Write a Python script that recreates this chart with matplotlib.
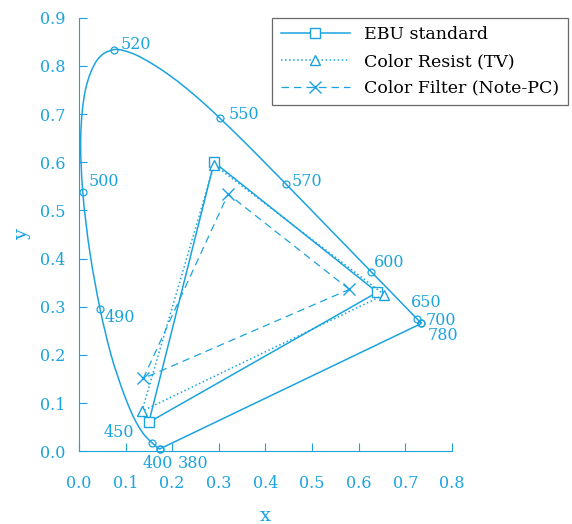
import numpy as np
import matplotlib
matplotlib.use("Agg")
import matplotlib.pyplot as plt
from matplotlib.path import Path
from matplotlib.patches import PathPatch

# CIE 1931 spectral locus (nm, x, y)
wl = [380, 390, 400, 410, 420, 430, 440, 445, 450, 455, 460, 465, 470, 475, 480,
      485, 490, 495, 500, 505, 510, 515, 520, 525, 530, 535, 540, 545, 550, 555,
      560, 565, 570, 575, 580, 585, 590, 595, 600, 605, 610, 615, 620, 625, 630,
      635, 640, 645, 650, 655, 660, 670, 680, 690, 700, 780]
lx = [0.1741, 0.1738, 0.1733, 0.1726, 0.1714, 0.1689, 0.1644, 0.1611, 0.1566, 0.1510,
      0.1440, 0.1355, 0.1241, 0.1096, 0.0913, 0.0687, 0.0454, 0.0235, 0.0082, 0.0039,
      0.0139, 0.0389, 0.0743, 0.1142, 0.1547, 0.1929, 0.2296, 0.2658, 0.3016, 0.3373,
      0.3731, 0.4087, 0.4441, 0.4788, 0.5125, 0.5448, 0.5752, 0.6029, 0.6270, 0.6482,
      0.6658, 0.6801, 0.6915, 0.7006, 0.7079, 0.7140, 0.7190, 0.7230, 0.7260, 0.7283,
      0.7300, 0.7320, 0.7334, 0.7344, 0.7347, 0.7347]
ly = [0.0050, 0.0049, 0.0048, 0.0048, 0.0051, 0.0069, 0.0109, 0.0138, 0.0177, 0.0227,
      0.0297, 0.0399, 0.0578, 0.0868, 0.1327, 0.2007, 0.2950, 0.4127, 0.5384, 0.6548,
      0.7502, 0.8120, 0.8338, 0.8262, 0.8059, 0.7816, 0.7543, 0.7243, 0.6923, 0.6589,
      0.6245, 0.5896, 0.5547, 0.5202, 0.4866, 0.4544, 0.4242, 0.3965, 0.3725, 0.3514,
      0.3340, 0.3197, 0.3083, 0.2993, 0.2920, 0.2859, 0.2809, 0.2770, 0.2740, 0.2717,
      0.2700, 0.2680, 0.2666, 0.2656, 0.2653, 0.2653]

marked = [380, 400, 450, 490, 500, 520, 550, 570, 600, 650, 700, 780]

ebu_x = [0.64, 0.29, 0.15]
ebu_y = [0.33, 0.60, 0.06]
resist_x = [0.655, 0.29, 0.135]
resist_y = [0.325, 0.595, 0.083]
filter_x = [0.58, 0.32, 0.138]
filter_y = [0.336, 0.534, 0.151]

c = "#1ba3e0"
plt.rcParams["font.family"] = ["DejaVu Serif"]

fig = plt.figure(figsize=(5.72, 5.24), dpi=100)
ax = fig.add_axes([0.138, 0.139, 0.652, 0.827])

# locus drawn as a smooth curve (Catmull-Rom -> cubic Bezier), plus purple line
P = np.column_stack([lx, ly])
verts = [P[0]]
codes = [Path.MOVETO]
for i in range(len(P) - 1):
    p0 = P[max(i - 1, 0)]
    p1 = P[i]
    p2 = P[i + 1]
    p3 = P[min(i + 2, len(P) - 1)]
    verts += [p1 + (p2 - p0) / 6, p2 - (p3 - p1) / 6, p2]
    codes += [Path.CURVE4] * 3
verts.append(P[0])
codes.append(Path.LINETO)
ax.add_patch(PathPatch(Path(verts, codes), fill=False, edgecolor=c, lw=1.1,
                       clip_on=False))

mx = [lx[wl.index(w)] for w in marked]
my = [ly[wl.index(w)] for w in marked]
ax.plot(mx, my, "o", ms=5, mfc="none", mec=c, mew=0.9, clip_on=False)

lab_off = {380: (0.038, -0.03), 400: (-0.036, -0.03), 450: (-0.103, 0.022),
           490: (0.010, -0.018), 500: (0.012, 0.021), 520: (0.016, 0.010),
           550: (0.020, 0.007), 570: (0.013, 0.006), 600: (0.006, 0.02),
           650: (-0.013, 0.034), 700: (0.008, 0.007), 780: (0.014, -0.026)}
for w, x, y in zip(marked, mx, my):
    dx, dy = lab_off[w]
    ax.text(x + dx, y + dy, str(w), color=c, fontsize=11.5, va="center", ha="left")

def tri(xs, ys):
    return xs + [xs[0]], ys + [ys[0]]

ex, ey = tri(ebu_x, ebu_y)
ax.plot(ex, ey, "-", color=c, lw=1.1, marker="s", ms=7, mfc="white", mec=c,
        markevery=[0, 1, 2], label="EBU standard")
rx, ry = tri(resist_x, resist_y)
ax.plot(rx, ry, ":", color=c, lw=1.1, marker="^", ms=7, mfc="white", mec=c,
        markevery=[0, 1, 2], label="Color Resist (TV)")
fx, fy = tri(filter_x, filter_y)
ax.plot(fx, fy, "--", color=c, lw=0.9, dashes=(6, 4), marker="x", ms=8, mec=c,
        markevery=[0, 1, 2], label="Color Filter (Note-PC)")

ax.set_xlim(0, 0.8)
ax.set_ylim(0, 0.9)
ax.set_xticks(np.arange(0, 0.81, 0.1))
ax.set_yticks(np.arange(0, 0.91, 0.1))
ax.set_xticklabels([f"{v:.1f}" for v in np.arange(0, 0.81, 0.1)])
ax.set_yticklabels([f"{v:.1f}" for v in np.arange(0, 0.91, 0.1)])
for s in ["top", "right"]:
    ax.spines[s].set_visible(False)
for s in ["left", "bottom"]:
    ax.spines[s].set_color(c)
ax.tick_params(axis="x", direction="in", length=6, color=c, labelcolor=c,
               labelsize=11.5, pad=17)
ax.tick_params(axis="y", direction="in", length=6, color=c, labelcolor=c,
               labelsize=11.5, pad=10)
ax.set_xlabel("x", color=c, fontsize=14, labelpad=11)
ax.set_ylabel("y", color=c, fontsize=14, labelpad=6)

leg = ax.legend(loc="upper right", bbox_to_anchor=(1.311, 1.0), borderaxespad=0,
                fontsize=12.5, frameon=True, fancybox=False, edgecolor="#444444",
                handlelength=4.0, borderpad=0.5, labelspacing=0.55)
leg.get_frame().set_linewidth(0.9)

fig.savefig("out.png", dpi=100)
